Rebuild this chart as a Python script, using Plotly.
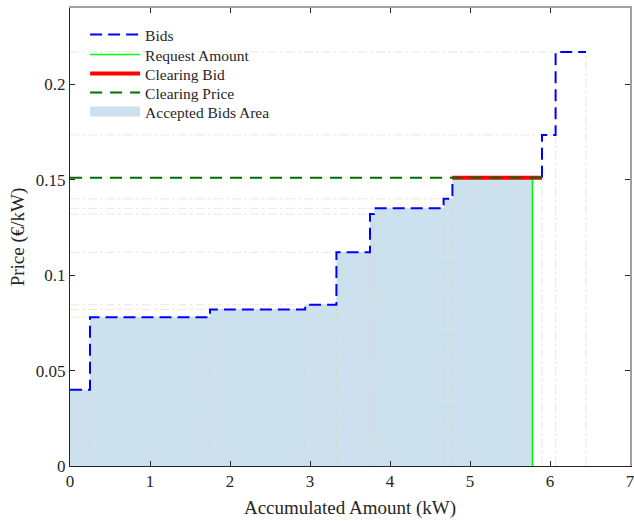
import plotly.graph_objects as go

# Bid data (cumulative end amount in kW, price in €/kW)
bid_amounts = [0.25, 1.75, 2.94, 3.33, 3.75, 3.80, 4.67, 4.78, 5.90, 6.07, 6.45]
bid_prices = [0.040, 0.078, 0.082, 0.0845, 0.112, 0.132, 0.135, 0.140, 0.151, 0.1735, 0.217]
request_amount = 5.78
clearing_index = 8
clearing_price = bid_prices[clearing_index]

x_ticks = [0, 1, 2, 3, 4, 5, 6, 7]
y_ticks = [0, 0.05, 0.1, 0.15, 0.2]
y_tick_labels = ["0", "0.05", "0.1", "0.15", "0.2"]
legend_names = ["Bids", "Request Amount", "Clearing Bid", "Clearing Price", "Accepted Bids Area"]

starts = [0] + bid_amounts[:-1]
FONT = "Liberation Serif"
FILL = "rgb(204,224,238)"

fig = go.Figure()

# Accepted bids area
fx = starts[:clearing_index + 1] + [request_amount]
fy = bid_prices[:clearing_index + 1] + [clearing_price]
fig.add_trace(go.Scatter(x=fx, y=fy, mode="lines", line_shape="hv", fill="tozeroy",
                         fillcolor=FILL, line=dict(width=0, color=FILL),
                         showlegend=False, name=legend_names[4]))

# Faint reference lines for each bid step
gx, gy = [], []
for a, p in zip(bid_amounts, bid_prices):
    gx += [0, a, None, a, a, None]
    gy += [p, p, None, 0, p, None]
fig.add_trace(go.Scatter(x=gx, y=gy, mode="lines", showlegend=False, hoverinfo="skip",
                         line=dict(color="rgba(215,215,190,0.55)", width=1, dash="dashdot")))

# Bids step curve
bx = starts + [bid_amounts[-1]]
by = bid_prices + [bid_prices[-1]]
fig.add_trace(go.Scatter(x=bx, y=by, mode="lines", line_shape="hv", name=legend_names[0], legend="legend",
                         line=dict(color="rgb(0,0,255)", width=2, dash="12px,6px")))

# Request amount
fig.add_trace(go.Scatter(x=[request_amount, request_amount], y=[0, clearing_price], mode="lines",
                         name=legend_names[1], legend="legend2",
                         line=dict(color="rgb(0,255,0)", width=1.5)))

# Clearing bid
fig.add_trace(go.Scatter(x=[starts[clearing_index], bid_amounts[clearing_index]],
                         y=[clearing_price, clearing_price], mode="lines",
                         name=legend_names[2], legend="legend3",
                         line=dict(color="rgb(255,0,0)", width=4)))

# Clearing price
fig.add_trace(go.Scatter(x=[0, bid_amounts[clearing_index]], y=[clearing_price, clearing_price],
                         mode="lines", name=legend_names[3], legend="legend4",
                         line=dict(color="rgb(0,110,0)", width=2, dash="12px,8px")))

# Legend entry for the area
fig.add_trace(go.Scatter(x=[None], y=[None], mode="lines", name=legend_names[4], legend="legend5",
                         line=dict(color=FILL, width=14), hoverinfo="skip"))

axis_common = dict(ticks="inside", ticklen=5, tickcolor="#262626", showgrid=False, zeroline=False,
                   ticklabeloverflow="allow", automargin=False,
                   tickfont=dict(family=FONT, size=17, color="#262626"))

legend_rows_px = [35, 55, 74, 93, 112]
legends = {}
for i, py in enumerate(legend_rows_px):
    key = "legend" if i == 0 else f"legend{i + 1}"
    legends[key] = dict(x=0.027, y=1 - (py - 8) / 458, xanchor="left", yanchor="middle",
                        bgcolor="rgba(0,0,0,0)", font=dict(family=FONT, size=15.5, color="#262626"),
                        itemwidth=50)

fig.update_layout(
    width=634, height=521,
    margin=dict(l=70, r=4, t=8, b=55),
    paper_bgcolor="white", plot_bgcolor="white",
    font=dict(family=FONT, color="#262626"),
    xaxis=dict(range=[0, 7], tickvals=x_ticks, showline=True, linecolor="#262626", linewidth=1,
               title=dict(text="Accumulated Amount (kW)", font=dict(family=FONT, size=19), standoff=10),
               **axis_common),
    yaxis=dict(range=[0, 0.24], tickvals=y_ticks, ticktext=y_tick_labels, showline=True,
               linecolor="#262626", linewidth=1,
               title=dict(text="Price (€/kW)", font=dict(family=FONT, size=19), standoff=6),
               **axis_common),
    xaxis2=dict(range=[0, 7], tickvals=x_ticks, overlaying="x", side="top", showticklabels=False,
                showline=True, linecolor="#a0a0a0", linewidth=1.5, ticks="inside", ticklen=5,
                tickcolor="#262626", showgrid=False, zeroline=False, automargin=False),
    yaxis2=dict(range=[0, 0.24], tickvals=y_ticks, overlaying="y", side="right", showticklabels=False,
                showline=True, linecolor="#a0a0a0", linewidth=1.5, ticks="inside", ticklen=5,
                tickcolor="#262626", showgrid=False, zeroline=False, automargin=False),
    showlegend=True,
    **legends,
)

# Invisible trace to activate the mirrored axes
fig.add_trace(go.Scatter(x=[None], y=[None], xaxis="x2", yaxis="y2", showlegend=False, hoverinfo="skip"))

fig.write_html("out.html")
